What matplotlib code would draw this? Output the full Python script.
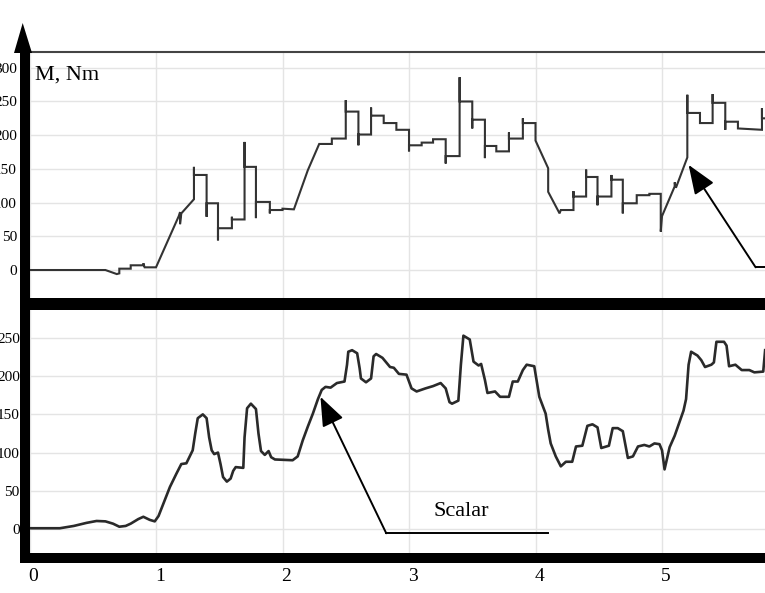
import matplotlib
matplotlib.use('Agg')
import matplotlib.pyplot as plt
import matplotlib.transforms as mtrans
from matplotlib.patches import Rectangle, Polygon

plt.rcParams['font.family'] = ['Liberation Serif', 'DejaVu Serif']

# top panel: measured torque (step signal with switching spikes)
top_t = [0.00, 0.60, 0.69, 0.71, 0.71, 0.80, 0.80, 0.90, 0.90, 0.91, 1.00,
         1.18, 1.19, 1.19, 1.20, 1.30, 1.30, 1.30, 1.40, 1.40, 1.40, 1.49, 1.49, 1.49,
         1.60, 1.60, 1.60, 1.70, 1.70, 1.70, 1.79, 1.79, 1.79, 1.90, 1.90, 1.90,
         2.00, 2.00, 2.09, 2.20, 2.29, 2.39, 2.39, 2.50, 2.50, 2.50, 2.60, 2.60, 2.60,
         2.70, 2.70, 2.70, 2.80, 2.80, 2.90, 2.90, 3.00, 3.00, 3.00, 3.10, 3.10,
         3.19, 3.19, 3.29, 3.29, 3.29, 3.40, 3.40, 3.40, 3.50, 3.50, 3.50,
         3.60, 3.60, 3.60, 3.69, 3.69, 3.79, 3.79, 3.79, 3.90, 3.90, 3.90,
         4.00, 4.00, 4.10, 4.10, 4.19, 4.20, 4.30, 4.30, 4.30, 4.40, 4.40, 4.40,
         4.49, 4.49, 4.49, 4.60, 4.60, 4.60, 4.69, 4.69, 4.69, 4.80, 4.80, 4.90, 4.90,
         4.99, 4.99, 5.00, 5.10, 5.10, 5.11, 5.20, 5.20, 5.20, 5.30, 5.30, 5.40, 5.40, 5.40,
         5.50, 5.50, 5.50, 5.60, 5.60, 5.79, 5.79, 5.79, 5.85]
top_m = [0, 0, -6, -5, 2, 2, 7, 7, 10, 4, 4,
         80, 86, 68, 84, 105, 153, 141, 141, 79, 99, 99, 44, 62,
         62, 79, 75, 75, 190, 153, 153, 77, 101, 101, 84, 89,
         89, 91, 90, 148, 187, 187, 195, 195, 252, 235, 235, 185, 201,
         201, 241, 229, 229, 218, 218, 208, 208, 176, 185, 185, 189,
         189, 194, 194, 158, 169, 169, 286, 250, 250, 210, 223,
         223, 166, 184, 184, 176, 176, 204, 195, 195, 225, 218,
         218, 192, 151, 116, 84, 89, 89, 117, 109, 109, 149, 138,
         138, 96, 109, 109, 141, 134, 134, 84, 99, 99, 111, 111, 113,
         113, 57, 80, 124, 130, 122, 167, 260, 233, 233, 218, 218, 261, 248,
         248, 208, 220, 220, 210, 208, 240, 225, 225]

# bottom panel: scalar control torque
bot_t = [0.00, 0.24, 0.35, 0.45, 0.53, 0.60, 0.66, 0.71, 0.76, 0.80, 0.86, 0.90, 0.95, 0.99,
         1.02, 1.07, 1.11, 1.16, 1.20, 1.24, 1.29, 1.31, 1.33, 1.37, 1.40, 1.42, 1.44, 1.46,
         1.49, 1.51, 1.53, 1.56, 1.59, 1.61, 1.63, 1.69, 1.70, 1.72, 1.75, 1.79, 1.81, 1.83,
         1.86, 1.89, 1.91, 1.94, 2.08, 2.12, 2.16, 2.20, 2.24, 2.28, 2.31, 2.34, 2.38, 2.43,
         2.49, 2.51, 2.52, 2.55, 2.59, 2.61, 2.62, 2.66, 2.70, 2.72, 2.74, 2.79, 2.82, 2.85,
         2.88, 2.92, 2.98, 3.02, 3.06, 3.13, 3.19, 3.25, 3.29, 3.32, 3.34, 3.39, 3.41, 3.43,
         3.48, 3.51, 3.55, 3.57, 3.60, 3.62, 3.68, 3.72, 3.79, 3.82, 3.86, 3.90, 3.93, 3.99,
         4.03, 4.08, 4.10, 4.12, 4.16, 4.20, 4.24, 4.29, 4.32, 4.37, 4.41, 4.45, 4.49, 4.52,
         4.58, 4.61, 4.65, 4.69, 4.73, 4.77, 4.81, 4.86, 4.90, 4.94, 4.98, 5.00, 5.02, 5.06,
         5.10, 5.13, 5.17, 5.19, 5.21, 5.23, 5.28, 5.31, 5.34, 5.39, 5.41, 5.43, 5.49, 5.51,
         5.53, 5.58, 5.63, 5.69, 5.73, 5.80, 5.815]
bot_m = [1, 1, 4, 8, 10.5, 10, 7, 3, 4, 7, 13, 16, 12, 10,
         17, 38, 55, 72, 85, 86, 103, 125, 145, 150, 145, 120, 103, 98,
         100, 85, 68, 62, 66, 76, 81, 80, 120, 158, 164, 157, 125, 102,
         97, 102, 94, 91, 90, 95, 116, 134, 151, 170, 182, 186, 185, 191,
         193, 215, 232, 234, 230, 210, 197, 192, 197, 226, 229, 224, 218, 212,
         211, 203, 202, 184, 180, 184, 187, 191, 184, 166, 164, 168, 215, 253,
         248, 219, 214, 216, 195, 178, 180, 173, 173, 193, 193, 208, 215, 213,
         173, 151, 130, 112, 95, 82, 88, 88, 108, 109, 135, 137, 133, 106,
         109, 132, 132, 128, 93, 95, 108, 110, 108, 112, 111, 103, 78, 107,
         122, 136, 155, 170, 215, 232, 227, 221, 212, 215, 218, 245, 245, 240,
         213, 215, 208, 208, 205, 206, 234]

x_ticks = [0, 1, 2, 3, 4, 5]
top_yticks = [0, 50, 100, 150, 200, 250, 300]
bot_yticks = [0, 50, 100, 150, 200, 250]

W, H = 765, 593
fig = plt.figure(figsize=(W / 100, H / 100), dpi=100)


def fx(px):
    return px / W


def fy(py):
    return 1 - py / H


ax1 = fig.add_axes([fx(29.5), fy(298), fx(765 - 29.5), (298 - 52) / H])
ax2 = fig.add_axes([fx(29.5), fy(553), fx(765 - 29.5), (553 - 310) / H])

grid_c = '#e4e4e4'
for ax, yt, ylim in [(ax1, top_yticks, (-41.5, 323.4)), (ax2, bot_yticks, (-31.4, 286.6))]:
    ax.set_xlim(0, 5.814)
    ax.set_ylim(*ylim)
    ax.set_xticks(x_ticks)
    ax.set_yticks(yt)
    ax.grid(True, color=grid_c, lw=1)
    ax.set_axisbelow(True)
    for s in ax.spines.values():
        s.set_visible(False)
    ax.tick_params(length=0, labelsize=11, colors='black')

ax1.spines['top'].set_visible(True)
ax1.spines['top'].set_color('#444444')
ax1.spines['top'].set_linewidth(1.5)
ax1.tick_params(axis='x', labelbottom=False)
ax1.tick_params(axis='y', pad=9)
ax2.tick_params(axis='y', pad=7)
ax2.tick_params(axis='x', labelsize=14, pad=11)
off = mtrans.ScaledTranslation(4 / 100, 0, fig.dpi_scale_trans)
for lab in ax2.get_xticklabels():
    lab.set_transform(lab.get_transform() + off)

ax1.plot(top_t, top_m, color='#333333', lw=1.5, solid_joinstyle='miter')
ax2.plot(bot_t, bot_m, color='#2a2a2a', lw=1.9, solid_joinstyle='round')

fig.text(fx(35), fy(80), 'M, Nm', fontsize=16, va='baseline', ha='left')

arr = dict(arrowstyle='-|>,head_length=0.9,head_width=0.35', color='black',
           lw=1.4, mutation_scale=20, shrinkA=0, shrinkB=0)
ax1.annotate('', xy=(5.21, 156), xytext=(5.74, 4), arrowprops=arr)
ax1.plot([5.74, 5.9], [4, 4], color='black', lw=1.4)

ax2.annotate('', xy=(2.30, 173), xytext=(2.82, -5.6), arrowprops=arr)
ax2.plot([2.82, 4.10], [-5.6, -5.6], color='black', lw=1.4)
ax2.text(3.41, 23, 'Scalar', fontsize=16, ha='center', va='center')

# thick black frame
for x0, y0, x1, y1 in [(20, 50, 30, 563), (20, 298, 765, 310), (20, 553, 765, 563)]:
    fig.add_artist(Rectangle((fx(x0), fy(y1)), fx(x1 - x0), (y1 - y0) / H,
                             transform=fig.transFigure, color='black', lw=0))
fig.add_artist(Polygon([(fx(14), fy(53)), (fx(32), fy(53)), (fx(22.7), fy(23))],
                       closed=True, transform=fig.transFigure, color='black', lw=0))

fig.savefig('out.png', dpi=100)
